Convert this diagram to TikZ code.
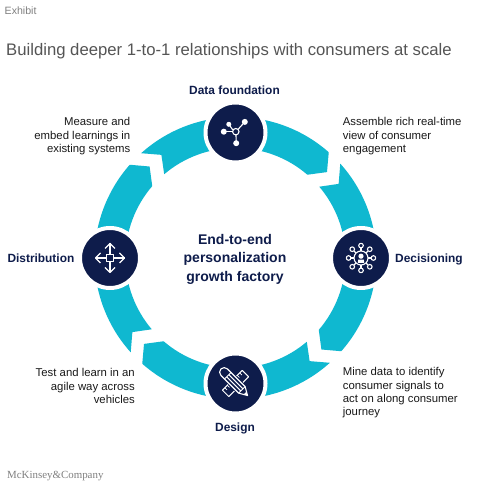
\documentclass[tikz,border=0pt]{standalone}
\usepackage{fontspec}
\setmainfont{Liberation Sans}
\newfontfamily\mckfont{Liberation Serif}
\definecolor{teal}{HTML}{0FB8D0}
\definecolor{navy}{HTML}{0E1C4B}
\definecolor{greytxt}{HTML}{555555}
\newcommand{\fs}[2]{\fontsize{#1}{#2}\selectfont}
\tikzset{
  seg/.style={fill=teal,draw=none},
  hub/.style={circle,fill=navy,draw=white,line width=4pt,minimum size=60pt,inner sep=0pt},
  body/.style={inner sep=0pt,text=black!90,font=\fs{11.35}{13.3}},
  head/.style={inner sep=0pt,text=navy,font=\fs{11.9}{13}\bfseries},
  ico/.style={draw=white,line width=1.1pt,line join=round},
  icof/.style={fill=white,draw=none}
}
\begin{document}
\begin{tikzpicture}[x=1pt,y=1pt]
\useasboundingbox (0,0) rectangle (479,486);
\fill[white] (0,0) rectangle (479,486);
\coordinate (C) at (235.5,228);
% ring segments, four-fold rotation
\foreach \r in {0,-90,-180,-270}{
  \begin{scope}[shift={(C)},rotate=\r]
    \fill[seg] (90:141pt) arc[start angle=90,end angle=48.6,radius=141pt]
       -- (43.2:125.5pt) -- (49.2:110pt)
       arc[start angle=49.2,end angle=90,radius=110pt] -- cycle;
    \fill[seg] (0:141pt) arc[start angle=0,end angle=42,radius=141pt]
       -- (35.7:127pt) -- (40.4:110pt)
       arc[start angle=40.4,end angle=0,radius=110pt] -- cycle;
  \end{scope}
}
% hubs
\node[hub] (top) at (235.5,353.5) {};
\node[hub] (right) at (361,228) {};
\node[hub] (bottom) at (235.5,102.5) {};
\node[hub] (left) at (110,228) {};
% data icon
\begin{scope}[shift={(top)}]
  \draw[ico] (0.3,0.8) circle (3.2pt);
  \draw[ico] (2.6,3.2) -- (9.3,10.6);
  \draw[ico] (-2.6,2.4) -- (-6.7,8.2);
  \draw[ico] (-2.9,0.8) -- (-11.7,0.8);
  \draw[ico] (0.5,-2.4) -- (0.7,-10.7);
  \fill[white] (9.3,10.6) circle (3pt) (-6.7,8.2) circle (2.5pt) (-11.7,0.8) circle (3pt) (0.7,-10.7) circle (3pt);
\end{scope}
% decisioning icon
\begin{scope}[shift={(right)}]
  \foreach \a in {0,45,...,315}{
    \draw[ico] (\a:6.8pt) -- (\a:10pt);
    \draw[ico] (\a:12.4pt) circle (2.3pt);
  }
  \draw[ico] (0,0) circle (7pt);
  \fill[white] (0,1.8) circle (2.6pt);
  \fill[white] (-3.2,-5) -- (-2.8,-1.6) -- (2.8,-1.6) -- (3.2,-5) -- cycle;
\end{scope}
% design icon
\begin{scope}[shift={(bottom)}]
  \begin{scope}[rotate=45]
    \draw[ico,line width=1pt] (-14,-4.5) rectangle (14,4.5);
    \foreach \x in {-10.5,-7,7,10.5} \draw[ico,line width=.8pt] (\x,4.5) -- (\x,1.5);
  \end{scope}
  \begin{scope}[rotate=-45]
    \fill[navy] (-17,-6) -- (10,-6) -- (18,0) -- (10,6) -- (-17,6) -- cycle;
    \draw[ico,line width=1.1pt] (-16,-4.6) -- (9,-4.6) -- (17,0) -- (9,4.6) -- (-16,4.6)
       arc[start angle=90,end angle=270,radius=4.6pt] -- cycle;
    \draw[ico,line width=.9pt] (-11,-4.6) -- (-11,4.6) (-11,1.5) -- (9,1.5) (-11,-1.5) -- (9,-1.5) (9,-4.6) -- (9,4.6);
    \fill[white] (17,0) -- (13.5,2) -- (13.5,-2) -- cycle;
  \end{scope}
\end{scope}
% distribution icon
\begin{scope}[shift={(left)}]
  \draw[ico,line width=1.4pt] (-3.4,-3.4) rectangle (3.4,3.4);
  \foreach \a in {0,90,180,270}{
    \begin{scope}[rotate=\a]
      \draw[ico,line width=1.4pt] (3.4,0) -- (14.5,0);
      \draw[ico,line width=1.4pt] (9.5,5) -- (14.5,0) -- (9.5,-5);
    \end{scope}
  }
\end{scope}
% texts
\node[anchor=base west,inner sep=0pt,text=gray,font=\fs{10.6}{12}] (exhibit) at (4.5,471) {Exhibit};
\node[anchor=base west,inner sep=0pt,text=greytxt,font=\fs{16.7}{18}] (title) at (6,430.5) {Building deeper 1-to-1 relationships with consumers at scale};
\node[head,anchor=base] (t1) at (234.5,391.5) {Data foundation};
\node[head,anchor=base west] (t2) at (395,223.5) {Decisioning};
\node[head,anchor=base] (t3) at (235,54.5) {Design};
\node[head,anchor=base east] (t4) at (74.5,223.5) {Distribution};
\node[body,anchor=north west,align=left] (b1) at (342.7,368.6) {Assemble rich real-time\\view of consumer\\engagement};
\node[body,anchor=north west,align=left] (b2) at (342.7,118.6) {Mine data to identify\\consumer signals to\\act on along consumer\\journey};
\node[body,anchor=north east,align=right] (b3) at (130.5,368.6) {Measure and\\embed learnings in\\existing systems};
\node[body,anchor=north east,align=right] (b4) at (135,117.6) {Test and learn in an\\agile way across\\vehicles};
\node[inner sep=0pt,text=navy,align=center,font=\fs{14}{18.5}\bfseries] (mid) at (235,227) {End-to-end\\personalization\\growth factory};
\node[anchor=base west,inner sep=0pt,text=gray,font=\mckfont\fs{10.9}{13}] (mck) at (7,7.5) {McKinsey\&Company};
\end{tikzpicture}
\end{document}
